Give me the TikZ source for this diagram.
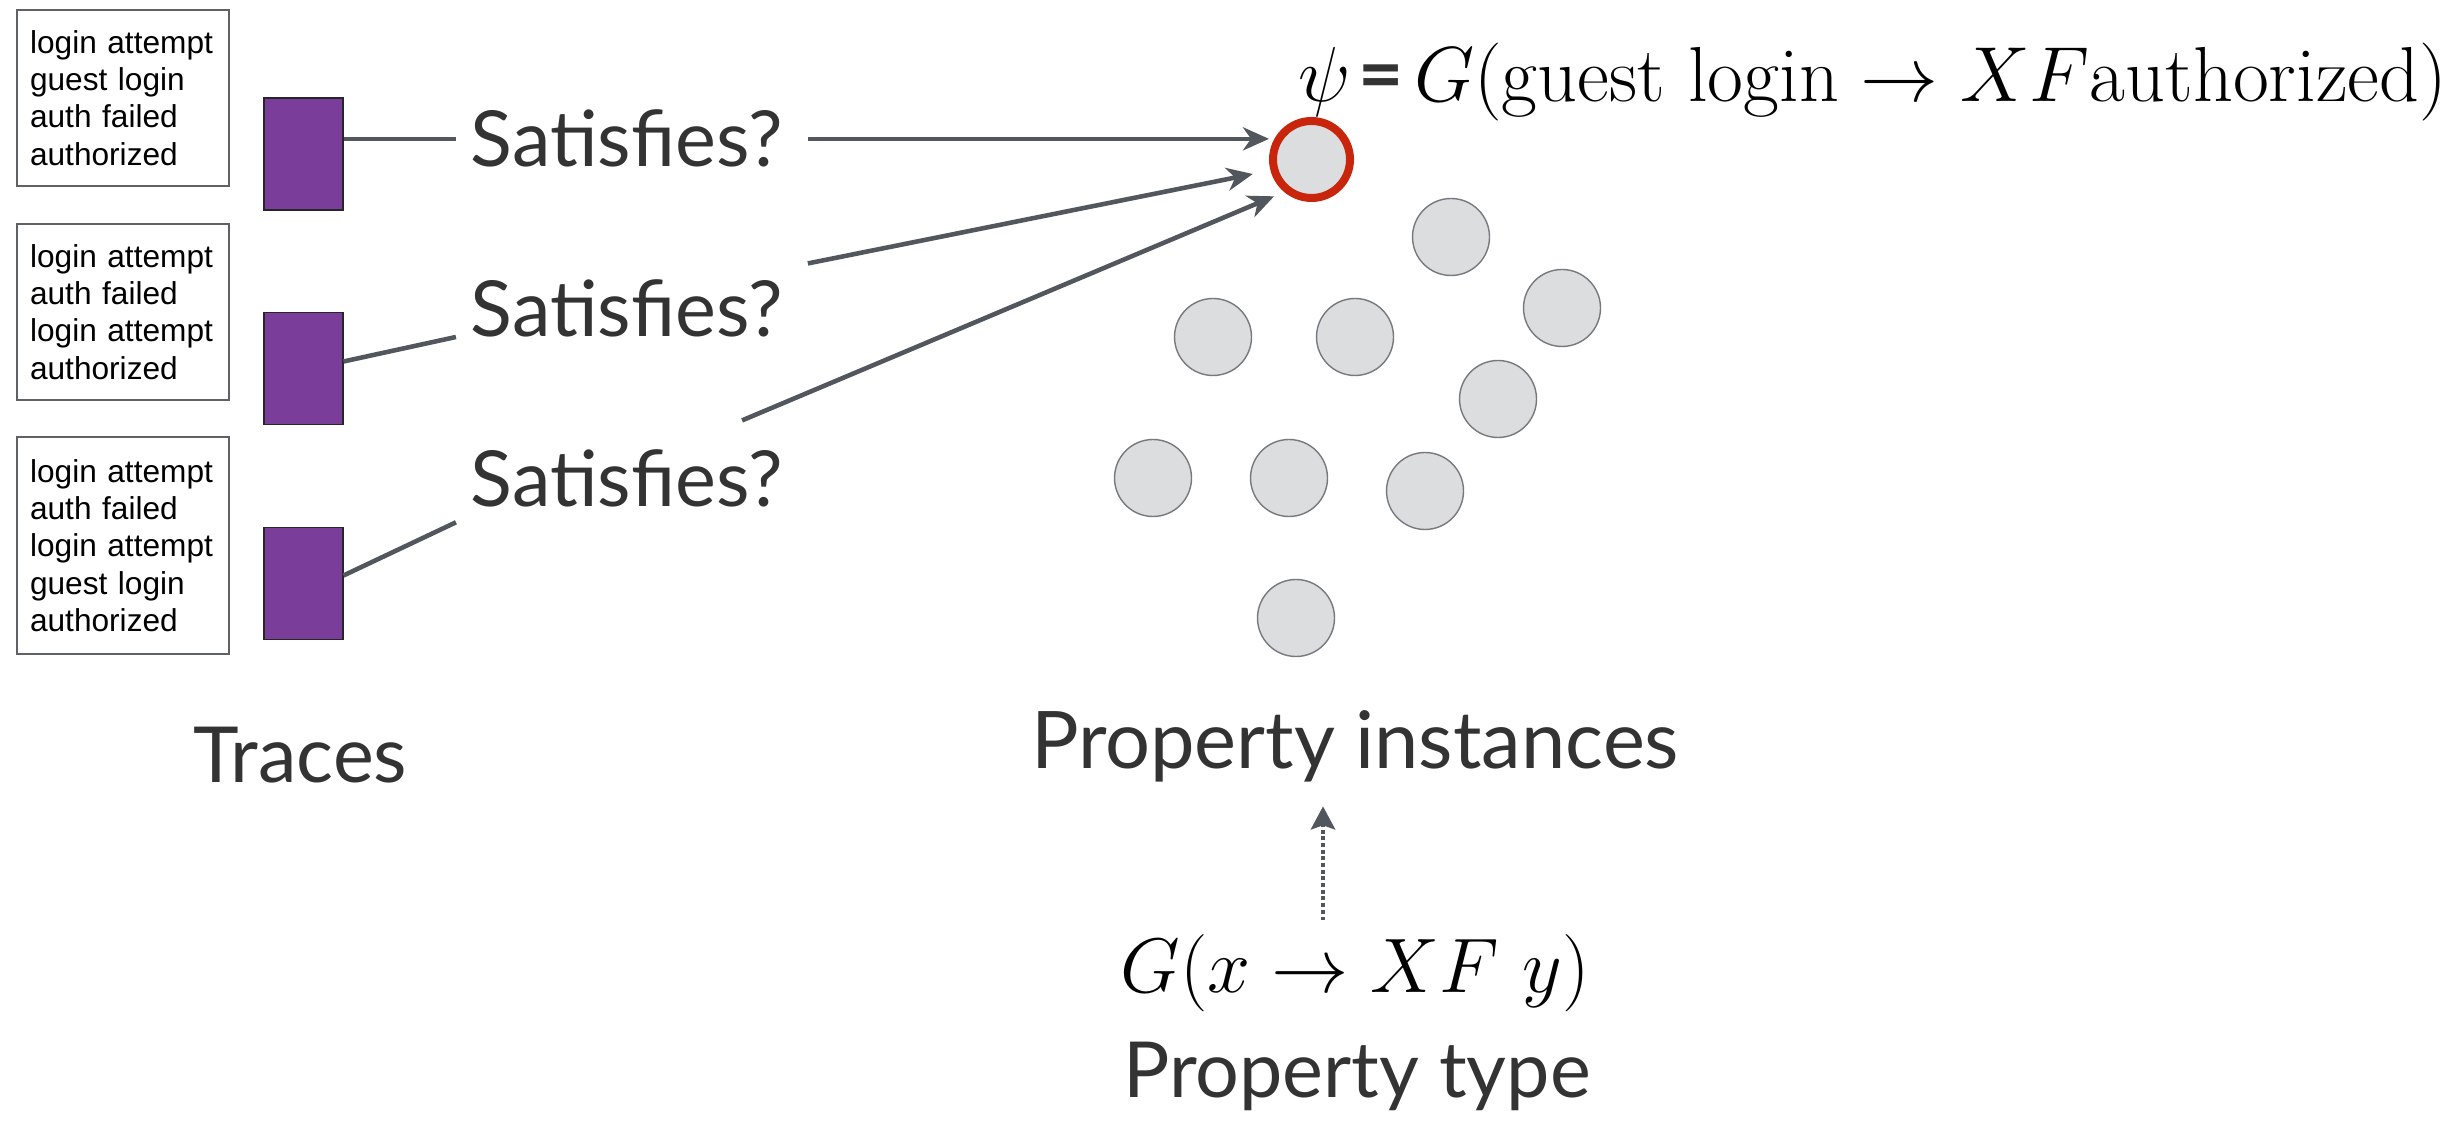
\RequirePackage{fix-cm}
\documentclass[tikz,border=0pt]{standalone}
\usepackage{fontspec}
\setsansfont{Lato}
\newfontfamily\tracefont{Liberation Sans}
\usetikzlibrary{arrows.meta, positioning, calc}
\usepackage{amsmath}
\usepackage{xcolor}
\definecolor{tracepurple}{HTML}{7A3D99}
\definecolor{hitred}{HTML}{C8250C}
\definecolor{instgray}{HTML}{DCDDDF}
\definecolor{ringgray}{HTML}{76797E}
\definecolor{arrowgray}{HTML}{52575E}
\definecolor{labelgray}{HTML}{333333}
\definecolor{boxgray}{HTML}{5E6166}

\begin{document}
\begin{tikzpicture}[trace/.style={rectangle, draw=boxgray, line width=0.6pt, anchor=north west,
  minimum width=2.12cm, text width=1.86cm, inner xsep=0.13cm, align=left,
  font=\tracefont\fontsize{9}{10.6}\selectfont},
  run/.style={rectangle, draw=black!85, line width=0.3pt, fill=tracepurple,
  minimum width=0.79cm, minimum height=1.12cm, inner sep=0pt},
  ask/.style={font=\sffamily\fontsize{22}{26}\selectfont, text=labelgray, inner sep=0.14cm, anchor=base},
  inst/.style={circle, draw=ringgray, fill=instgray, line width=0.4pt, minimum size=0.77cm, inner sep=0pt},
  hit/.style={inst, draw=hitred, line width=0.08cm},
  link/.style={draw=arrowgray, line width=1.3pt},
  arr/.style={link, -{Stealth[length=0.26cm, width=0.23cm, inset=0.08cm]}},
  dotarr/.style={draw=arrowgray, line width=1.4pt, dash pattern=on 1.1pt off 0.8pt,
  -{Stealth[length=0.23cm, width=0.24cm, inset=0.04cm]}}]
  \useasboundingbox (0,0) rectangle (24.63,-11.27);

  % traces
  \node[trace, minimum height=1.76cm] (t1) at (0.16,-0.09) {login attempt\\guest login\\auth failed\\authorized};
  \node[trace, minimum height=1.76cm] (t2) at (0.16,-2.23) {login attempt\\auth failed\\login attempt\\authorized};
  \node[trace, minimum height=2.17cm] (t3) at (0.16,-4.36) {login attempt\\auth failed\\login attempt\\guest login\\authorized};
  \node[run] (r1) at (3.035,-1.54) {};
  \node[run] (r2) at (3.035,-3.685) {};
  \node[run] (r3) at (3.035,-5.835) {};
  \node[ask] (s1) at (6.27,-1.67) {Satisfies?};
  \node[ask] (s2) at (6.27,-3.37) {Satisfies?};
  \node[ask] (s3) at (6.27,-5.07) {Satisfies?};
  \node[ask] (traces) at (3.005,-7.83) {Traces};

  % property instances
  \node[hit] (target) at (13.115,-1.595) {};
  \node[inst] (p1) at (14.51,-2.37) {};
  \node[inst] (p2) at (15.62,-3.08) {};
  \node[inst] (p3) at (12.13,-3.37) {};
  \node[inst] (p4) at (13.55,-3.37) {};
  \node[inst] (p5) at (14.98,-3.99) {};
  \node[inst] (p6) at (11.53,-4.78) {};
  \node[inst] (p7) at (12.89,-4.78) {};
  \node[inst] (p8) at (14.25,-4.91) {};
  \node[inst] (p9) at (12.96,-6.18) {};
  \node[anchor=base west, inner sep=0pt, font=\fontsize{22.2}{26}\selectfont] (formula) at (12.98,-1.02)
    {$\psi$\hspace{2pt}{\sffamily\bfseries\color{labelgray}=}\hspace{3pt}$G(\mathrm{guest\ login}\rightarrow XF\mathrm{authorized})$};
  \node[ask, font=\sffamily\fontsize{22.6}{26}\selectfont] (pinst) at (13.55,-7.69) {Property instances};
  \node[anchor=base, inner sep=0.14cm, font=\fontsize{22}{26}\selectfont] (gform) at (13.55,-9.93) {$G(x\rightarrow XF\ y)$};
  \node[ask] (ptype) at (13.57,-10.97) {Property type};

  % connectors
  \draw[link] (r1.east |- s1.west) -- (s1.west);
  \draw[link] ([yshift=0.07cm]r2.east) -- (s2.base west);
  \draw[link] ([yshift=0.08cm]r3.east) -- (s3.south west);
  \coordinate (s3out) at ([xshift=-0.56cm, yshift=0.15cm]s3.north east);
  \draw[arr, shorten <=0.1cm] (s1.east) -- (s1.east -| target.west);
  \draw[arr, shorten <=0.1cm, shorten >=0.18cm] (s2.north east) -- (target.195);
  \draw[arr, shorten >=0.11cm] (s3out) -- (target.230);
  \draw[dotarr, shorten >=0.09cm] ([xshift=-0.32cm]gform.north) -- ([xshift=-0.32cm]pinst.south);
\end{tikzpicture}
\end{document}
